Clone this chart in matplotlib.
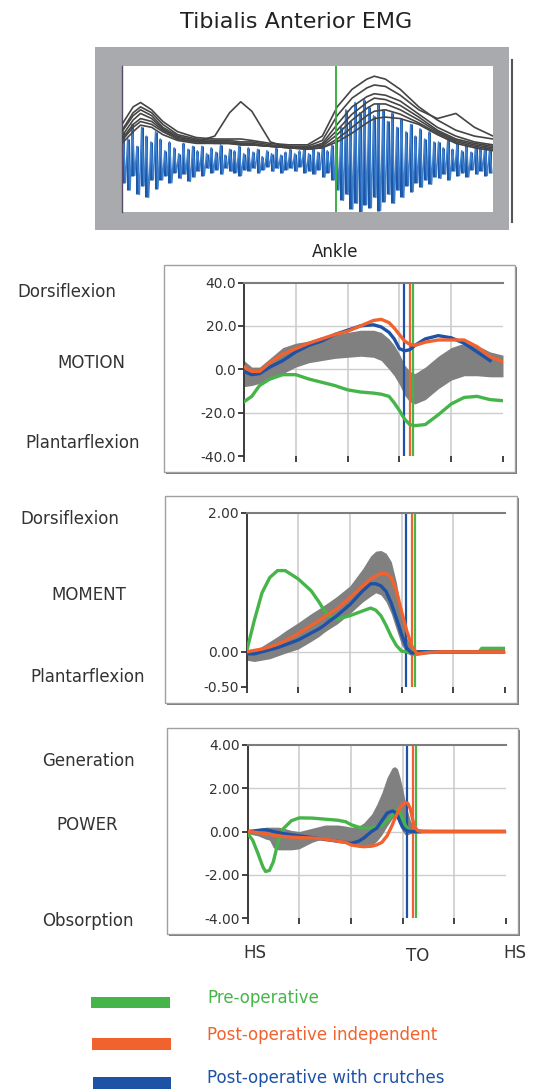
import numpy as np
import matplotlib
matplotlib.use("Agg")
import matplotlib.pyplot as plt
from matplotlib.patches import Rectangle

W, H = 533, 1090

# ---------------- Tibialis anterior EMG (normalised amplitude) ----------------
emg_env_x = [0, 3, 5, 8, 11, 15, 20, 25, 29, 32, 35, 40, 45, 50, 54, 58, 62, 66, 68, 71, 75, 80, 85, 90, 95, 100]
emg_env_1 = [0.60, 0.72, 0.75, 0.70, 0.62, 0.55, 0.51, 0.50, 0.50, 0.50, 0.49, 0.47, 0.46, 0.46, 0.52, 0.72, 0.84, 0.91, 0.93, 0.91, 0.84, 0.72, 0.63, 0.56, 0.52, 0.50]
emg_env_2 = [0.56, 0.68, 0.72, 0.68, 0.60, 0.53, 0.50, 0.49, 0.49, 0.48, 0.48, 0.46, 0.45, 0.45, 0.49, 0.66, 0.78, 0.85, 0.87, 0.86, 0.80, 0.70, 0.64, 0.675, 0.58, 0.52]
emg_env_3 = [0.55, 0.66, 0.70, 0.66, 0.58, 0.52, 0.49, 0.48, 0.48, 0.47, 0.47, 0.45, 0.45, 0.44, 0.47, 0.60, 0.72, 0.79, 0.81, 0.80, 0.76, 0.67, 0.58, 0.52, 0.48, 0.46]
emg_env_4 = [0.52, 0.63, 0.675, 0.64, 0.57, 0.51, 0.49, 0.48, 0.47, 0.47, 0.46, 0.45, 0.44, 0.44, 0.46, 0.56, 0.67, 0.75, 0.78, 0.77, 0.73, 0.65, 0.56, 0.50, 0.47, 0.45]
emg_env_5 = [0.50, 0.60, 0.64, 0.62, 0.56, 0.50, 0.48, 0.47, 0.47, 0.46, 0.46, 0.45, 0.44, 0.44, 0.45, 0.53, 0.63, 0.71, 0.74, 0.74, 0.70, 0.63, 0.55, 0.49, 0.46, 0.44]
emg_env_6 = [0.49, 0.58, 0.62, 0.60, 0.55, 0.50, 0.48, 0.52, 0.68, 0.755, 0.69, 0.48, 0.44, 0.43, 0.44, 0.50, 0.58, 0.66, 0.69, 0.70, 0.67, 0.61, 0.54, 0.48, 0.45, 0.43]
emg_env_7 = [0.47, 0.55, 0.595, 0.58, 0.53, 0.49, 0.47, 0.47, 0.47, 0.46, 0.46, 0.45, 0.44, 0.43, 0.44, 0.48, 0.54, 0.61, 0.64, 0.65, 0.64, 0.60, 0.53, 0.47, 0.44, 0.42]

# raw signal: successive peak / trough pairs
emg_peaks = [0.55, 0.50, 0.60, 0.45, 0.58, 0.52, 0.48, 0.55,
             0.50, 0.42, 0.48, 0.44, 0.40, 0.47, 0.43, 0.45,
             0.42, 0.45, 0.40, 0.44, 0.41, 0.46, 0.39, 0.43, 0.42, 0.45, 0.40, 0.44,
             0.41, 0.43, 0.38, 0.42, 0.40, 0.44, 0.39, 0.41, 0.43, 0.40, 0.42, 0.44,
             0.40, 0.43, 0.41, 0.45, 0.42, 0.46,
             0.50, 0.58, 0.70, 0.62, 0.75, 0.68, 0.77, 0.72, 0.66, 0.74, 0.70,
             0.62, 0.68, 0.58, 0.64, 0.55, 0.60, 0.52, 0.57, 0.50, 0.55, 0.48,
             0.48, 0.44, 0.50, 0.43, 0.47, 0.42, 0.46, 0.41, 0.45, 0.44, 0.46, 0.43]
emg_troughs = [0.20, 0.15, 0.25, 0.12, 0.18, 0.10, 0.22, 0.16,
               0.22, 0.25, 0.20, 0.27, 0.23, 0.26, 0.21, 0.24,
               0.28, 0.25, 0.30, 0.27, 0.29, 0.26, 0.30, 0.28, 0.27, 0.25, 0.29, 0.28,
               0.30, 0.27, 0.29, 0.31, 0.28, 0.30, 0.27, 0.29, 0.30, 0.28, 0.31, 0.27,
               0.28, 0.26, 0.29, 0.24, 0.27, 0.22,
               0.15, 0.08, 0.12, 0.02, 0.06, 0.00, 0.05, 0.03, 0.10, 0.01, 0.07,
               0.12, 0.06, 0.15, 0.10, 0.18, 0.14, 0.20, 0.17, 0.22, 0.19, 0.24,
               0.23, 0.26, 0.22, 0.28, 0.25, 0.27, 0.24, 0.29, 0.26, 0.28, 0.25, 0.27]
emg_event = 57.6

# ---------------- Ankle gait data, % of gait cycle ----------------
groups = ["Pre-operative", "Post-operative independent", "Post-operative with crutches"]
group_colors = ["#46b549", "#f2622e", "#1d52a6"]
toe_off = [65.3, 63.9, 61.8]

motion_pct = [0, 3, 6, 10, 15, 20, 25, 30, 35, 40, 45, 50, 53, 56, 58, 60, 62, 64, 66, 70, 75, 80, 85, 90, 95, 100]
motion_norm_hi = [4, 1, 1, 5, 10, 12, 13, 15, 16, 17, 18, 18, 17, 14, 11, 7, 2, -1, -2, 1, 6, 10, 12, 11, 8, 6.5]
motion_norm_lo = [-8, -7.5, -6.5, -5, -2, 1, 3, 4, 5, 5.5, 6, 5.5, 4, 0, -3, -7, -12, -15, -16, -14, -9, -5, -3, -3, -3.5, -3.5]
motion_pre = [-15, -12.5, -7.5, -4.5, -2.5, -2.5, -4.5, -6, -7.5, -9.5, -10.5, -11, -11.5, -12.5, -15.5, -19, -23, -25.5, -26, -25.5, -21, -16, -13, -12.5, -14, -14.5]
motion_post_indep = [1, -1, -1, 3, 7, 9.5, 12, 14, 16, 17.5, 20, 22.5, 23, 21.5, 19, 16, 13, 11.5, 11, 12.5, 13.5, 13.5, 13.5, 10.4, 5.8, 3.5]
motion_post_crutch = [-1, -2.5, -2, 1, 4, 8, 11, 13, 16, 18, 20, 20.5, 19.5, 17, 14, 9.5, 8.5, 9, 11, 14, 15.5, 14.5, 12, 8, 4, np.nan]

moment_pct = [0, 3, 6, 9, 12, 15, 20, 25, 28, 30, 32, 35, 40, 45, 48, 50, 52, 54, 56, 58, 60, 62, 64, 66, 70, 75, 80, 85, 90, 91, 95, 100]
moment_norm_hi = [0.0, 0.02, 0.08, 0.15, 0.22, 0.3, 0.42, 0.55, 0.62, 0.67, 0.72, 0.8, 0.95, 1.2, 1.38, 1.45, 1.46, 1.42, 1.3, 1.0, 0.55, 0.2, 0.06, 0.03, 0.02, 0.02, 0.02, 0.02, 0.02, 0.02, 0.02, 0.02]
moment_norm_lo = [-0.12, -0.14, -0.12, -0.1, -0.06, -0.02, 0.04, 0.15, 0.22, 0.28, 0.33, 0.4, 0.55, 0.72, 0.8, 0.85, 0.82, 0.72, 0.55, 0.32, 0.1, -0.02, -0.06, -0.05, -0.03, -0.02, -0.02, -0.02, -0.02, -0.02, -0.02, -0.02]
moment_pre = [0.0, 0.45, 0.85, 1.07, 1.17, 1.17, 1.05, 0.88, 0.72, 0.6, 0.52, 0.47, 0.52, 0.59, 0.63, 0.6, 0.52, 0.38, 0.22, 0.09, 0.01, 0, 0, 0, 0, 0, 0, 0, 0, 0.05, 0.05, 0.05]
moment_post_indep = [0.0, 0.02, 0.04, 0.07, 0.11, 0.16, 0.26, 0.38, 0.45, 0.5, 0.55, 0.62, 0.78, 0.95, 1.05, 1.09, 1.13, 1.13, 1.07, 0.88, 0.58, 0.3, 0.08, -0.03, -0.01, 0, 0, 0, 0, 0, 0, 0]
moment_post_crutch = [-0.03, -0.03, 0.0, 0.03, 0.06, 0.1, 0.17, 0.27, 0.33, 0.38, 0.44, 0.52, 0.68, 0.88, 0.98, 0.98, 0.95, 0.87, 0.7, 0.48, 0.25, 0.05, -0.02, 0, 0, 0, 0, 0, 0, 0, 0, 0]

power_pct = [0, 2, 4, 6, 7, 8.5, 10, 12, 14, 17, 20, 25, 30, 35, 38, 40, 43, 45, 48, 50, 52, 54, 56, 57, 58, 59, 60, 61, 62, 63, 64, 65, 66, 68, 70, 75, 100]
power_norm_hi = [0.1, 0.1, 0.1, 0.15, 0.2, 0.2, 0.2, 0.2, 0.15, 0.05, 0.0, 0.15, 0.3, 0.3, 0.25, 0.2, 0.25, 0.4, 0.8, 1.25, 1.8, 2.5, 2.95, 3.0, 2.9, 2.5, 2.0, 1.4, 0.9, 0.5, 0.3, 0.15, 0.12, 0.1, 0.1, 0.03, 0.03]
power_norm_lo = [-0.1, -0.15, -0.2, -0.3, -0.35, -0.4, -0.75, -0.85, -0.85, -0.85, -0.8, -0.5, -0.3, -0.4, -0.5, -0.6, -0.7, -0.75, -0.65, -0.45, -0.15, 0.25, 0.6, 0.7, 0.55, 0.25, 0.0, -0.15, -0.15, -0.1, -0.1, -0.1, -0.08, -0.05, -0.05, -0.03, -0.03]
power_pre = [-0.08, -0.4, -1.0, -1.65, -1.85, -1.8, -1.4, -0.4, 0.15, 0.5, 0.63, 0.62, 0.57, 0.52, 0.45, 0.32, 0.2, 0.15, 0.15, 0.2, 0.3, 0.5, 0.75, 0.9, 1.0, 0.9, 0.6, 0.3, 0.1, 0.02, 0, 0, 0, 0, 0, 0, 0]
power_post_indep = [0, -0.02, -0.05, -0.08, -0.1, -0.13, -0.17, -0.2, -0.23, -0.26, -0.28, -0.3, -0.35, -0.45, -0.5, -0.62, -0.68, -0.7, -0.68, -0.62, -0.5, -0.2, 0.3, 0.6, 0.85, 1.1, 1.25, 1.35, 1.3, 1.05, 0.5, 0.15, 0.03, 0, 0, 0, 0]
power_post_crutch = [0, 0.02, 0.05, 0.08, 0.08, 0.05, 0.0, -0.05, -0.1, -0.15, -0.2, -0.28, -0.37, -0.45, -0.5, -0.55, -0.45, -0.3, 0.0, 0.15, 0.5, 0.85, 0.95, 0.9, 0.75, 0.45, 0.2, 0.08, 0.02, 0, 0, 0, 0, 0, 0, 0, 0]

cycle_ticks = [0, 20, 40, 60, 80, 100]
event_labels = ["HS", "TO", "HS"]

# ---------------- helpers ----------------
plt.rcParams["font.family"] = ["DejaVu Sans"]
fig = plt.figure(figsize=(W / 100, H / 100), dpi=100)
fig.patch.set_facecolor("white")


def fx(x):
    return x / W


def fy(y):
    return 1 - y / H


def axes_px(left, top, right, bottom):
    return fig.add_axes([fx(left), fy(bottom), (right - left) / W, (bottom - top) / H])


def rect_px(left, top, right, bottom, **kw):
    r = Rectangle((fx(left), fy(bottom)), (right - left) / W, (bottom - top) / H,
                  transform=fig.transFigure, **kw)
    fig.add_artist(r)
    return r


def text_px(x, y, s, **kw):
    kw.setdefault("va", "baseline")
    fig.text(fx(x), fy(y), s, **kw)


# ---------------- title and EMG panel ----------------
text_px(296, 28, "Tibialis Anterior EMG", fontsize=16, ha="center", color="#222222")

rect_px(95, 47, 509, 230, facecolor="#a8aaad", edgecolor="none", zorder=-2)
fig.add_artist(plt.Line2D([fx(512), fx(512)], [fy(60), fy(222)], transform=fig.transFigure,
                          color="#555555", lw=1.5, zorder=-1))

ax_emg = axes_px(122, 66, 493, 212)
ax_emg.set_facecolor("white")
ax_emg.set_xlim(0, 100)
ax_emg.set_ylim(0, 1)
ax_emg.set_xticks([])
ax_emg.set_yticks([])
for side in ["top", "right", "bottom"]:
    ax_emg.spines[side].set_visible(False)
ax_emg.spines["left"].set_color("#5a4a6a")
ax_emg.spines["left"].set_linewidth(1.0)

n_pairs = len(emg_peaks)
raw_x = np.linspace(0.3, 99.7, 2 * n_pairs)
raw_y = np.empty(2 * n_pairs)
raw_y[0::2] = emg_peaks
raw_y[1::2] = emg_troughs
# each burst drawn as a bar from trough to peak, joined by the sampled trace
ax_emg.vlines(raw_x[0::2], emg_troughs, emg_peaks, color="#1b57a8", lw=2.2, zorder=2)
ax_emg.plot(raw_x, raw_y, color="#3f7fcc", lw=1.1, zorder=2)

for env in [emg_env_1, emg_env_2, emg_env_3, emg_env_4, emg_env_5, emg_env_6, emg_env_7]:
    ax_emg.plot(emg_env_x, env, color="#454545", lw=1.2, zorder=3)
ax_emg.axvline(emg_event, color="#3cb043", lw=1.4, zorder=4)

text_px(335, 257, "Ankle", fontsize=12, ha="center", color="#222222")


# ---------------- gait panels ----------------
def gait_panel(box, area, pct, lo, hi, series, ylim, yticks, fmt, labels):
    bl, bt, br, bb = box
    rect_px(bl + 1.5, bt + 1.5, br + 1.5, bb + 1.5, facecolor="#7a7a7a", edgecolor="none", zorder=-3)
    rect_px(bl, bt, br, bb, facecolor="white", edgecolor="#a0a0a0", lw=1.0, zorder=-2)

    ax = axes_px(*area)
    ax.set_facecolor("none")
    ax.set_xlim(0, 100)
    ax.set_ylim(*ylim)
    ax.set_xticks(cycle_ticks)
    ax.set_xticklabels([])
    ax.set_yticks(yticks)
    ax.set_yticklabels([fmt.format(v) for v in yticks], fontsize=10, color="#333333")
    ax.tick_params(axis="both", direction="out", length=4.5, width=1.3, color="#333333", pad=1)
    for side in ["right", "bottom"]:
        ax.spines[side].set_visible(False)
    ax.spines["left"].set_color("#3a3a3a")
    ax.spines["left"].set_linewidth(1.4)
    ax.spines["top"].set_color("#7d7d7d")
    ax.spines["top"].set_linewidth(1.5)

    for xv in cycle_ticks[1:-1]:
        ax.axvline(xv, color="#cdcdcd", lw=1.2, zorder=0.5)
    for yv in yticks[1:-1]:
        ax.axhline(yv, color="#cdcdcd", lw=1.0, zorder=0.5)

    ax.fill_between(pct, lo, hi, color="#808080", lw=0, zorder=1)
    for t, c in zip(toe_off, group_colors):
        ax.axvline(t, color=c, lw=1.6, zorder=2)
    for idx in [0, 2, 1]:
        ax.plot(pct, series[idx], color=group_colors[idx], lw=2.4, zorder=3)

    for (x, y, s) in labels:
        text_px(x, y, s, fontsize=12, color="#333333")
    return ax


gait_panel((164, 265, 515, 472), (244, 282.5, 503, 456),
           motion_pct, motion_norm_lo, motion_norm_hi,
           [motion_pre, motion_post_indep, motion_post_crutch],
           (-40, 40), [-40, -20, 0, 20, 40], "{:.1f}",
           [(17, 297, "Dorsiflexion"), (57, 368, "MOTION"), (25, 448, "Plantarflexion")])

gait_panel((165, 496, 517, 703), (246.5, 513, 505, 686.5),
           moment_pct, moment_norm_lo, moment_norm_hi,
           [moment_pre, moment_post_indep, moment_post_crutch],
           (-0.5, 2.0), [-0.5, 0.0, 2.0], "{:.2f}",
           [(20, 524, "Dorsiflexion"), (51, 600, "MOMENT"), (30, 682, "Plantarflexion")])

gait_panel((167, 728, 518, 934), (247.5, 745, 506, 918),
           power_pct, power_norm_lo, power_norm_hi,
           [power_pre, power_post_indep, power_post_crutch],
           (-4, 4), [-4, -2, 0, 2, 4], "{:.2f}",
           [(42, 766, "Generation"), (56, 830, "POWER"), (42, 926, "Obsorption")])

# gait events under the power panel
for (x, y), s in zip([(255, 958), (418, 961), (515, 958)], event_labels):
    text_px(x, y, s, fontsize=12, ha="center", color="#333333")

# ---------------- legend ----------------
legend_rows = [(91, 170, 997, 1008, 1003), (92, 171, 1038, 1050, 1040), (93, 171, 1077, 1089, 1083)]
for (x0, x1, y0, y1, ty), name, c in zip(legend_rows, groups, group_colors):
    rect_px(x0, y0, x1, y1, facecolor=c, edgecolor="none")
    text_px(207, ty, name, fontsize=12, color=c)

fig.savefig("out.png", dpi=100, facecolor="white")
